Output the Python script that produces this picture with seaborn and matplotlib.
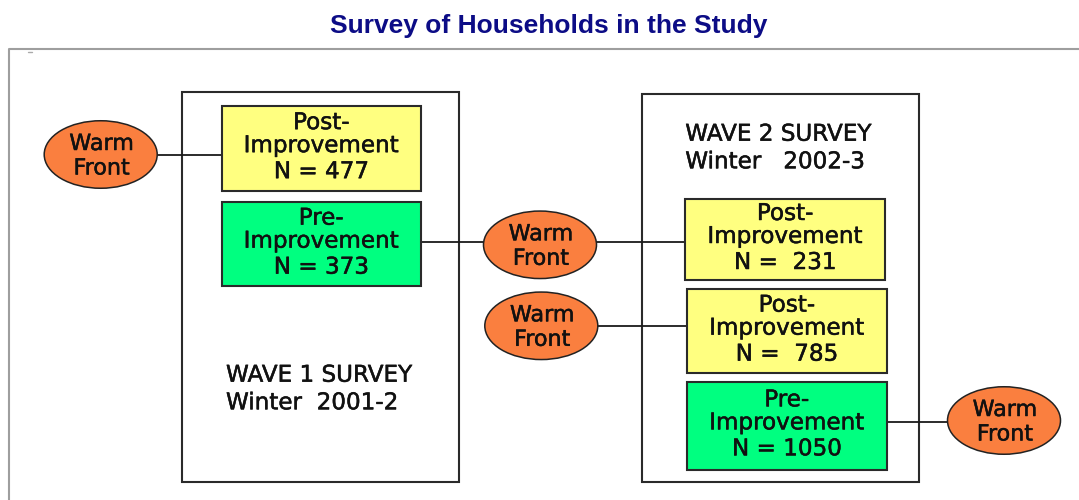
import matplotlib
matplotlib.use("Agg")
import matplotlib.pyplot as plt
from matplotlib.patches import Rectangle, Ellipse
import matplotlib.patheffects as pe
import pandas as pd
import seaborn as sns

# ---------------- data (texts / values) ----------------
title = "Survey of Households in the Study"
box_stage = ["Post-", "Pre-", "Post-", "Post-", "Pre-"]
box_word = ["Improvement", "Improvement", "Improvement", "Improvement", "Improvement"]
box_n = ["N = 477", "N = 373", "N =  231", "N =  785", "N = 1050"]
box_kind = ["post", "pre", "post", "post", "pre"]
wave_titles = ["WAVE 1 SURVEY", "WAVE 2 SURVEY"]
wave_periods = ["Winter  2001-2", "Winter   2002-3"]
node_lines = ["Warm", "Front"]

# ---------------- layout (pixel space, y down) ----------------
W, H = 1079, 500
box_xy = [(221.7, 106.0, 420.7, 191.3),
          (221.7, 202.3, 420.7, 286.0),
          (685.3, 199.0, 884.7, 280.0),
          (687.0, 289.3, 886.5, 373.0),
          (687.0, 382.0, 886.5, 469.7)]
wave_xy = [(181.7, 92.3, 458.7, 481.5), (642.0, 93.7, 919.3, 482.3)]
wave_text_pos = [(226.0, 381.7, 409.3), (685.3, 140.7, 168.3)]
node_c = [(100.7, 154.5), (540.0, 244.8), (541.3, 325.8), (1004.0, 420.5)]
node_w, node_h = 113.0, 67.5
edges = [(157.0, 221.7, 154.5), (420.7, 685.3, 242.3),
         (598.0, 687.0, 325.8), (886.5, 947.7, 421.7)]

colors = {"post": "#FFFF80", "pre": "#00FF80"}
orange = "#FA7F3F"
ink = "#111111"
thick = [pe.withStroke(linewidth=0.35, foreground=ink)]

sns.set_theme(style="white")
plt.rcParams["font.family"] = ["DejaVu Sans"]

fig = plt.figure(figsize=(W / 100, H / 100), dpi=100)
ax = fig.add_axes([0, 0, 1, 1])

# connectors through seaborn
rows = []
for i, (x1, x2, y) in enumerate(edges):
    rows.append({"x": x1, "y": y, "edge": i})
    rows.append({"x": x2, "y": y, "edge": i})
df = pd.DataFrame(rows)
sns.lineplot(data=df, x="x", y="y", units="edge", estimator=None, sort=False,
             color="#1A1A1A", linewidth=1.3, ax=ax, zorder=2)

# outer frame
ax.plot([9.3, 9.3, W + 5], [H + 5, 49.0, 49.0], color="#9E9E9E", lw=1.5, zorder=1,
        solid_capstyle="butt")
ax.plot([28, 32], [52, 52], color="#AAAAAA", lw=1.0, zorder=1)

# title
ax.text(549, 33.3, title, ha="center", va="baseline", fontsize=19,
        fontweight="bold", color="#0C0C86", family=["Liberation Sans", "DejaVu Sans"])

fs = 16.6
# wave boxes
for (x0, y0, x1, y1), (tx, b1, b2), t1, t2 in zip(wave_xy, wave_text_pos, wave_titles, wave_periods):
    ax.add_patch(Rectangle((x0, y0), x1 - x0, y1 - y0, facecolor="none",
                           edgecolor="#2A2A2A", lw=1.5, zorder=1.5))
    ax.text(tx, b1, t1, ha="left", va="baseline", fontsize=fs, color=ink, zorder=5,
            path_effects=thick)
    ax.text(tx, b2, t2, ha="left", va="baseline", fontsize=fs, color=ink, zorder=5,
            path_effects=thick)

# improvement boxes
for (x0, y0, x1, y1), s, w, n, k in zip(box_xy, box_stage, box_word, box_n, box_kind):
    ax.add_patch(Rectangle((x0, y0), x1 - x0, y1 - y0, facecolor=colors[k],
                           edgecolor="#2A2A2A", lw=1.5, zorder=3))
    cx, cy = (x0 + x1) / 2, (y0 + y1) / 2
    for off, line in zip([-19.5, 3.5, 29.5], [s, w, n]):
        ax.text(cx, cy + off, line, ha="center", va="baseline", fontsize=fs,
                color=ink, zorder=5, path_effects=thick)

# Warm Front nodes
for (cx, cy) in node_c:
    ax.add_patch(Ellipse((cx, cy), node_w, node_h, facecolor=orange,
                         edgecolor="#222222", lw=1.1, zorder=4))
    for off, line in zip([-4.5, 20.0], node_lines):
        ax.text(cx + 1, cy + off, line, ha="center", va="baseline", fontsize=16,
                color=ink, zorder=5, path_effects=thick)

ax.set_xlim(0, W)
ax.set_ylim(H, 0)
ax.set_xlabel("")
ax.set_ylabel("")
ax.axis("off")
fig.savefig("out.png", dpi=100, facecolor="white")
